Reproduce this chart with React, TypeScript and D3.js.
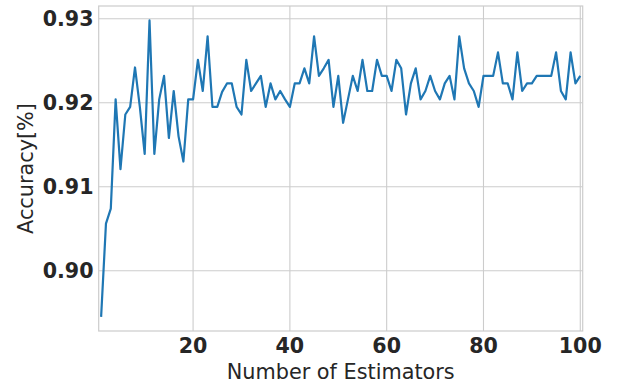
import React from "react";
import * as d3 from "d3";

const estimators: number[] = d3.range(1, 101);
const accuracy: number[] = [
  0.8945, 0.9056, 0.9074, 0.9204, 0.9121, 0.9186, 0.9195, 0.9242, 0.9195, 0.9139,
  0.9298, 0.9139, 0.9204, 0.9232, 0.9158, 0.9214, 0.916, 0.913, 0.9204, 0.9204,
  0.9251, 0.9214, 0.9279, 0.9195, 0.9195, 0.9213, 0.9223, 0.9223, 0.9195, 0.9186,
  0.9251, 0.9214, 0.9223, 0.9232, 0.9195, 0.9223, 0.9204, 0.9214, 0.9204, 0.9195,
  0.9223, 0.9223, 0.9241, 0.9223, 0.9279, 0.9232, 0.9241, 0.9251, 0.9195, 0.9232,
  0.9176, 0.9204, 0.9232, 0.9214, 0.9251, 0.9214, 0.9214, 0.9251, 0.9232, 0.9232,
  0.9214, 0.9251, 0.9241, 0.9186, 0.9223, 0.9241, 0.9204, 0.9214, 0.9232, 0.9214,
  0.9204, 0.9223, 0.9232, 0.9204, 0.9279, 0.9241, 0.9223, 0.9214, 0.9195, 0.9232,
  0.9232, 0.9232, 0.926, 0.9223, 0.9223, 0.9204, 0.926, 0.9214, 0.9223, 0.9223,
  0.9232, 0.9232, 0.9232, 0.9232, 0.926, 0.9214, 0.9204, 0.926, 0.9223, 0.9232,
];
const xTicks: number[] = [20, 40, 60, 80, 100];
const yTicks: number[] = [0.9, 0.91, 0.92, 0.93];

const W = 618;
const H = 383;
const left = 98.7;
const right = 582.7;
const top = 6;
const bottom = 331;

export default function App() {
  const x = d3.scaleLinear().domain([0.5, 100.5]).range([left, right]);
  const y = d3.scaleLinear().domain([0.89282, 0.93152]).range([bottom, top]);
  const line = d3
    .line<number>()
    .x((_, i) => x(estimators[i]))
    .y((d) => y(d));
  const grid = "#cccccc";
  const text = "#262626";
  const font = "DejaVu Sans";
  return (
    <svg
      width={W}
      height={H}
      style={{ position: "absolute", left: 0, top: 0, background: "#fff" }}
      fontFamily={font}
    >
      <rect x={0} y={0} width={W} height={H} fill="#fff" />
      {xTicks.map((t) => (
        <line key={"gx" + t} x1={x(t)} x2={x(t)} y1={top} y2={bottom} stroke={grid} strokeWidth={1.1} />
      ))}
      {yTicks.map((t) => (
        <line key={"gy" + t} x1={left} x2={right} y1={y(t)} y2={y(t)} stroke={grid} strokeWidth={1.1} />
      ))}
      <path d={line(accuracy) || ""} fill="none" stroke="#1f77b4" strokeWidth={2.2} strokeLinejoin="round" />
      <rect x={left} y={top} width={right - left} height={bottom - top} fill="none" stroke={grid} strokeWidth={1.2} />
      {xTicks.map((t) => (
        <text
          key={"tx" + t}
          x={x(t)}
          y={352.7}
          textAnchor="middle"
          fontSize={20.6}
          fontWeight="bold"
          fill={text}
        >
          {t}
        </text>
      ))}
      {yTicks.map((t) => (
        <text
          key={"ty" + t}
          x={93.5}
          y={y(t) + 7.5}
          textAnchor="end"
          fontSize={20.6}
          fontWeight="bold"
          fill={text}
        >
          {t.toFixed(2)}
        </text>
      ))}
      <text x={(left + right) / 2} y={378.5} textAnchor="middle" fontSize={20.8} fill={text}>
        Number of Estimators
      </text>
      <text
        transform={`translate(32.5,${(top + bottom) / 2}) rotate(-90)`}
        textAnchor="middle"
        fontSize={20.8}
        fill={text}
      >
        Accuracy[%]
      </text>
    </svg>
  );
}
